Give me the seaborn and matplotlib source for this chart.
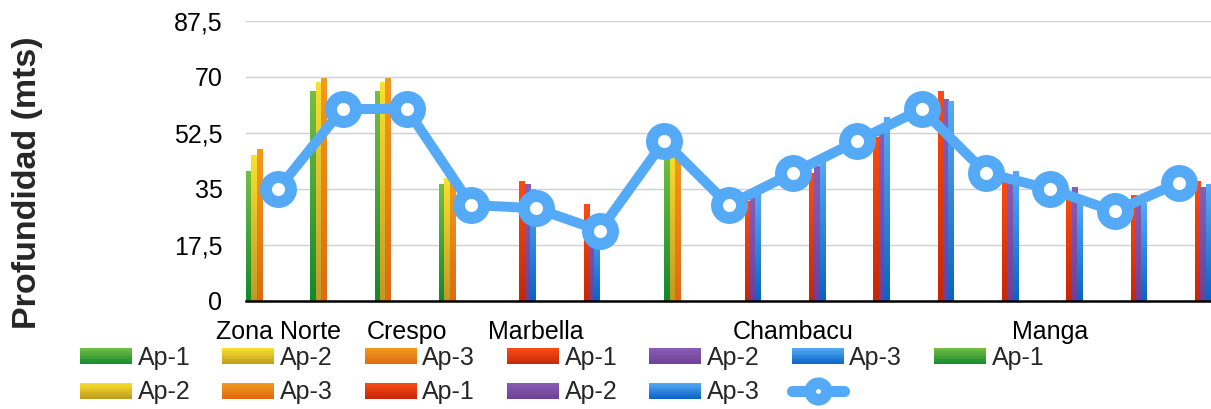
import numpy as np
import pandas as pd
import matplotlib
matplotlib.use("Agg")
import matplotlib.pyplot as plt
import seaborn as sns
from matplotlib.legend_handler import HandlerBase
from matplotlib.patches import Rectangle, Patch
from matplotlib.lines import Line2D
from matplotlib.colors import to_rgb

sns.set_theme(style="white")
plt.rcParams["font.family"] = ["Liberation Sans", "DejaVu Sans"]

nan = np.nan

# ---- data -------------------------------------------------------------
positions = list(range(15))
site_labels = ["Zona Norte", "", "Crespo", "", "Marbella", "", "", "",
               "Chambacu", "", "", "", "Manga", "", ""]

# four groups of three wells (Ap-1, Ap-2, Ap-3)
g1_ap1 = [40.5, 65.5, 65.5, 36.3, nan, nan, nan, nan, nan, nan, nan, nan, nan, nan, nan]
g1_ap2 = [45.5, 68.2, 68.2, 38.2, nan, nan, nan, nan, nan, nan, nan, nan, nan, nan, nan]
g1_ap3 = [47.2, 69.4, 69.4, 37.5, nan, nan, nan, nan, nan, nan, nan, nan, nan, nan, nan]
g2_ap1 = [nan, nan, nan, nan, 37.2, 30.3, nan, nan, nan, nan, nan, nan, nan, nan, nan]
g2_ap2 = [nan, nan, nan, nan, 36.3, 26.0, nan, nan, nan, nan, nan, nan, nan, nan, nan]
g2_ap3 = [nan, nan, nan, nan, 35.0, 25.0, nan, nan, nan, nan, nan, nan, nan, nan, nan]
g3_ap1 = [nan, nan, nan, nan, nan, nan, 46.0, nan, nan, nan, nan, nan, nan, nan, nan]
g3_ap2 = [nan, nan, nan, nan, nan, nan, 47.0, nan, nan, nan, nan, nan, nan, nan, nan]
g3_ap3 = [nan, nan, nan, nan, nan, nan, 46.0, nan, nan, nan, nan, nan, nan, nan, nan]
g4_ap1 = [nan, nan, nan, nan, nan, nan, nan, 31.0, 40.0, 51.0, 65.4, 38.0, 33.0, 33.0, 37.2]
g4_ap2 = [nan, nan, nan, nan, nan, nan, nan, 32.6, 42.0, 53.0, 63.1, 37.0, 35.4, 32.0, 35.4]
g4_ap3 = [nan, nan, nan, nan, nan, nan, nan, 34.2, 45.0, 57.3, 62.3, 40.4, 32.0, 30.5, 36.3]

depth_line = [35, 60, 60, 30, 29, 22, 50, 30, 40, 50, 60, 40, 35, 28, 37]

series_keys = ["g1_ap1", "g1_ap2", "g1_ap3", "g2_ap1", "g2_ap2", "g2_ap3",
               "g3_ap1", "g3_ap2", "g3_ap3", "g4_ap1", "g4_ap2", "g4_ap3"]
series_values = [g1_ap1, g1_ap2, g1_ap3, g2_ap1, g2_ap2, g2_ap3,
                 g3_ap1, g3_ap2, g3_ap3, g4_ap1, g4_ap2, g4_ap3]
series_labels = ["Ap-1", "Ap-2", "Ap-3"] * 4

yticks = [0, 17.5, 35, 52.5, 70, 87.5]
ytick_labels = ["0", "17,5", "35", "52,5", "70", "87,5"]

# ---- colours (top, bottom of vertical gradient) ----------------------
grad = {
    "green":  ("#74bf44", "#118a2f"),
    "yellow": ("#fbe12b", "#bf9a22"),
    "orange": ("#f29a1e", "#df6a14"),
    "red":    ("#fc4c14", "#c42808"),
    "purple": ("#8a5db5", "#6e3f98"),
    "blue":   ("#56aaf6", "#0864c4"),
}
series_color = ["green", "yellow", "orange", "red", "purple", "blue"] * 2
line_color = "#55aaf8"

rows = []
for key, vals in zip(series_keys, series_values):
    for pos, v in zip(positions, vals):
        rows.append({"pos": pos, "series": key, "value": v})
df = pd.DataFrame(rows).dropna()

palette = {k: grad[c][0] for k, c in zip(series_keys, series_color)}

# ---- figure -----------------------------------------------------------
W, H = 1211, 409
fig = plt.figure(figsize=(W / 100, H / 100), dpi=100)
ax = fig.add_axes([246 / W, 108 / H, (W - 246) / W, (301 - 21) / H])

sns.barplot(data=df, x="pos", y="value", hue="series", hue_order=series_keys,
            order=positions, palette=palette, width=1.0, dodge=True,
            errorbar=None, saturation=1, legend=False, ax=ax)


def gradient_image(top, bottom, n=64):
    t = np.linspace(0, 1, n)[:, None]
    b = np.array(to_rgb(bottom))
    tp = np.array(to_rgb(top))
    img = b[None, :] * (1 - t) + tp[None, :] * t
    return img[:, None, :]


# repaint every bar with a vertical light-to-dark gradient
for p in list(ax.patches):
    h = p.get_height()
    if not np.isfinite(h) or h <= 0:
        continue
    fc = np.array(p.get_facecolor()[:3])
    name = min(grad, key=lambda c: np.sum((np.array(to_rgb(grad[c][0])) - fc) ** 2))
    x0 = p.get_x()
    w = p.get_width()
    ax.imshow(gradient_image(*grad[name]), extent=[x0, x0 + w, 0, h],
              origin="lower", aspect="auto", zorder=2, interpolation="bilinear")
    p.set_visible(False)

sns.lineplot(x=positions, y=depth_line, ax=ax, color=line_color, linewidth=7.2,
             marker="o", markersize=18, markeredgewidth=8.6,
             markerfacecolor="white", markeredgecolor=line_color,
             legend=False, zorder=4)

ax.set_xlim(-0.5, 14.5)
ax.set_ylim(0, 87.5)
ax.set_yticks(yticks)
ax.set_yticklabels(ytick_labels)
ax.set_xticks([i for i, s in enumerate(site_labels) if s])
ax.set_xticklabels([s for s in site_labels if s])
ax.set_xlabel("")
ax.set_ylabel("")
ax.tick_params(axis="y", length=0, pad=17, labelsize=18, labelcolor="black")
ax.tick_params(axis="x", length=0, pad=14, labelsize=18, labelcolor="black")
ax.yaxis.grid(True, color="#d0d0d0", linewidth=1.0)
ax.xaxis.grid(False)
ax.set_axisbelow(True)
for s in ["top", "right", "left"]:
    ax.spines[s].set_visible(False)
ax.spines["bottom"].set_color("black")
ax.spines["bottom"].set_linewidth(1.8)
ax.spines["bottom"].set_zorder(5)

fig.text(28 / W, 1 - 183 / H, "Profundidad (mts)", rotation=90,
         ha="center", va="center", fontsize=24.5, fontweight="bold")


# ---- legend with gradient swatches -------------------------------------
class GradientHandler(HandlerBase):
    def __init__(self, top, bottom, steps=10):
        super().__init__()
        self.top, self.bottom, self.steps = top, bottom, steps

    def create_artists(self, legend, orig_handle, xdescent, ydescent,
                       width, height, fontsize, trans):
        arts = []
        tp = np.array(to_rgb(self.top))
        bt = np.array(to_rgb(self.bottom))
        hstep = height / self.steps
        for i in range(self.steps):
            t = (i + 0.5) / self.steps
            col = bt * (1 - t) + tp * t
            r = Rectangle((-xdescent, -ydescent + i * hstep), width, hstep * 1.05,
                          facecolor=col, edgecolor="none", transform=trans)
            arts.append(r)
        return arts


handles, labels, hmap = [], [], {}
for c, lab in zip(series_color, series_labels):
    ph = Patch(label=lab)
    handles.append(ph)
    labels.append(lab)
    hmap[ph] = GradientHandler(*grad[c])
line_handle = Line2D([], [], color=line_color, linewidth=8, marker="o",
                     markersize=12, markeredgewidth=8.3,
                     markerfacecolor="white", markeredgecolor=line_color)
handles.append(line_handle)
labels.append("")

# fill rows left to right: reorder for column-major legend layout
order = [0, 7, 1, 8, 2, 9, 3, 10, 4, 11, 5, 12, 6]
leg = fig.legend([handles[i] for i in order], [labels[i] for i in order],
                 handler_map=hmap, ncol=7, loc="upper left",
                 bbox_to_anchor=(80 / W, 1 - 346 / H), frameon=False,
                 fontsize=18, handlelength=2.08, handleheight=0.6,
                 handletextpad=0.22, columnspacing=1.28, labelspacing=0.42,
                 borderpad=0, borderaxespad=0)

fig.savefig("out.png", dpi=100)
